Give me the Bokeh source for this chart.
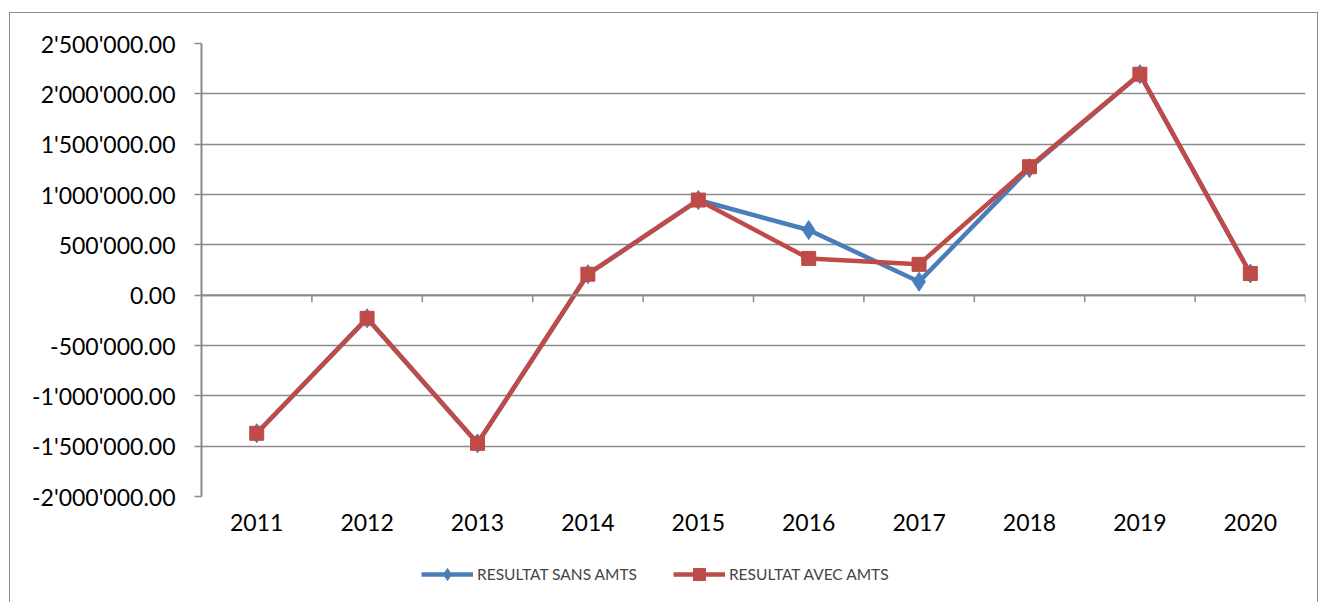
from bokeh.plotting import figure
from bokeh.layouts import column
from bokeh.models import Range1d, FixedTicker, Span, Legend, LegendItem
from bokeh.embed import file_html
from bokeh.resources import INLINE

years = ["2011", "2012", "2013", "2014", "2015", "2016", "2017", "2018", "2019", "2020"]
sans_amts = [-1372000, -230000, -1472000, 208000, 945000, 647000, 134000, 1262000, 2195000, 215000]
avec_amts = [-1372000, -230000, -1472000, 208000, 945000, 365000, 306000, 1276000, 2195000, 215000]
y_ticks = [-2000000, -1500000, -1000000, -500000, 0, 500000, 1000000, 1500000, 2000000, 2500000]
series_names = ["RESULTAT SANS AMTS", "RESULTAT AVEC AMTS"]

FONT = "Lato"
GRID = "#8a8a8a"
BLUE = "#4a7ebb"
RED = "#be4b48"

W = 1307
H_MAIN, H_LEG = 540, 50
ML, MR, MT, MB = 191, 12, 30, 57
y_min, y_max = -2000000, 2500000

p = figure(width=W, height=H_MAIN, output_backend="svg", toolbar_location=None,
           x_range=Range1d(0, len(years)), y_range=Range1d(y_min, y_max),
           min_border_left=ML, min_border_right=MR, min_border_top=MT, min_border_bottom=MB)
p.outline_line_color = None
p.background_fill_color = "white"
p.border_fill_color = "white"

xs = [i + 0.5 for i in range(len(years))]

# grid
p.xgrid.visible = False
p.ygrid.ticker = FixedTicker(ticks=y_ticks)
p.ygrid.grid_line_color = GRID
p.ygrid.grid_line_width = 1.5

# y axis
p.yaxis.ticker = FixedTicker(ticks=y_ticks)
p.yaxis.major_label_overrides = {v: f"{v:,.2f}".replace(",", "'") for v in y_ticks}
p.yaxis.axis_line_color = GRID
p.yaxis.axis_line_width = 2
p.yaxis.major_tick_line_color = GRID
p.yaxis.major_tick_line_width = 1.5
p.yaxis.major_tick_out = 7
p.yaxis.major_tick_in = 0
p.yaxis.minor_tick_line_color = None
p.yaxis.major_label_standoff = 19
p.yaxis.major_label_text_font = FONT
p.yaxis.major_label_text_font_size = "23px"
p.yaxis.major_label_text_color = "black"

# x axis (labels only, at bottom)
p.xaxis.ticker = FixedTicker(ticks=xs)
p.xaxis.major_label_overrides = {x: y for x, y in zip(xs, years)}
p.xaxis.axis_line_color = None
p.xaxis.major_tick_line_color = None
p.xaxis.minor_tick_line_color = None
p.xaxis.major_label_standoff = 11
p.xaxis.major_label_text_font = FONT
p.xaxis.major_label_text_font_size = "23px"
p.xaxis.major_label_text_color = "black"

# zero axis line with category-boundary ticks
p.add_layout(Span(location=0, dimension="width", line_color=GRID, line_width=2))
frame_h = H_MAIN - MT - MB
tick_len = 7 * (y_max - y_min) / frame_h
bounds = list(range(1, len(years) + 1))
p.segment(x0=bounds, y0=[0] * len(bounds), x1=bounds, y1=[-tick_len] * len(bounds),
          line_color=GRID, line_width=1.5)

# series
p.line(xs, sans_amts, line_color=BLUE, line_width=4.5)
p.scatter(xs, sans_amts, marker="diamond", size=19, fill_color=BLUE, line_color=BLUE)
p.line(xs, avec_amts, line_color=RED, line_width=4.5)
p.scatter(xs, avec_amts, marker="square", size=14, fill_color=RED, line_color=RED)

# legend strip below the chart (its frame is aligned with the chart's frame;
# the series are drawn there too, but outside its visible x range)
lf = figure(width=W, height=H_LEG, output_backend="svg", toolbar_location=None,
            x_range=Range1d(-100, -99), y_range=Range1d(y_min, y_max),
            min_border=0)
lf.axis.visible = False
lf.grid.visible = False
lf.outline_line_color = None
lf.border_fill_color = "white"
lf.background_fill_color = "white"
d1l = lf.line(xs, sans_amts, line_color=BLUE, line_width=4.5)
d1s = lf.scatter(xs, sans_amts, marker="diamond", size=15, fill_color=BLUE, line_color=BLUE)
d2l = lf.line(xs, avec_amts, line_color=RED, line_width=4.5)
d2s = lf.scatter(xs, avec_amts, marker="square", size=12, fill_color=RED, line_color=RED)

legend = Legend(items=[LegendItem(label=series_names[0], renderers=[d1l, d1s]),
                       LegendItem(label=series_names[1], renderers=[d2l, d2s])],
                orientation="horizontal", location=(220, 14),
                border_line_color=None, background_fill_alpha=0,
                label_text_font=FONT, label_text_font_size="15.5px",
                glyph_width=52, glyph_height=30, label_standoff=4, spacing=36,
                padding=4, margin=0)
lf.add_layout(legend, "center")

layout = column(p, lf, spacing=0, margin=(12, 0, 0, 9),
                styles={"border-top": "1px solid #8c8c8c", "border-left": "1px solid #8c8c8c",
                        "border-right": "1px solid #8c8c8c"})

open("out.html", "w").write(file_html(layout, INLINE))
